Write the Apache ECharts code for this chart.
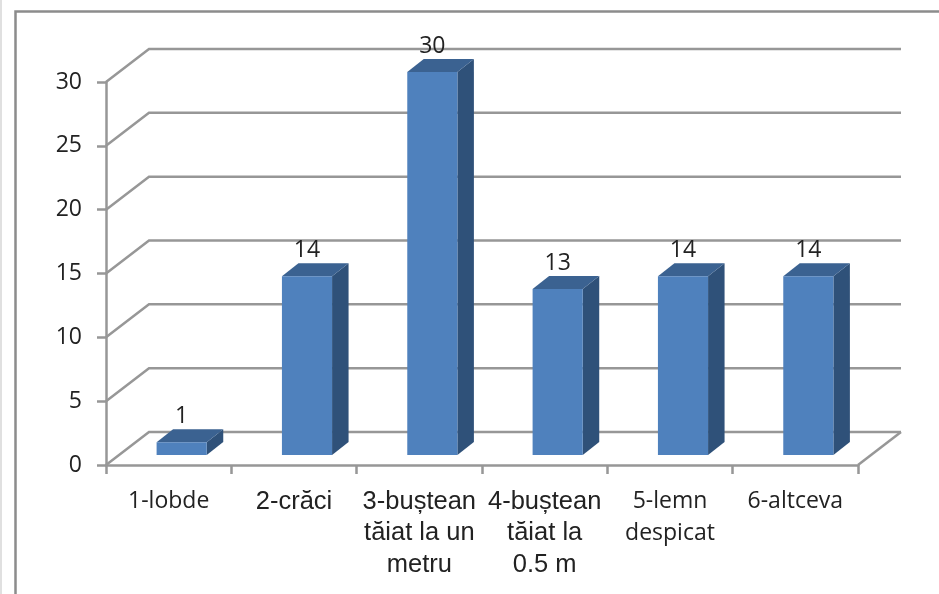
<!DOCTYPE html>
<html>
<head>
<meta charset="utf-8">
<style>html,body{margin:0;padding:0;background:#fff}</style>
<script src="https://cdn.jsdelivr.net/npm/echarts@6/dist/echarts.min.js"></script>
</head>
<body>
<div id="main" style="width:939px;height:594px;"></div>
<script type="text/javascript">
var categories = ['1-lobde', '2-crăci', '3-buștean\ntăiat la un\nmetru', '4-buștean\ntăiat la\n0.5 m', '5-lemn\ndespicat', '6-altceva'];
var values = [1, 14, 30, 13, 14, 14];
var yTicks = [0, 5, 10, 15, 20, 25, 30];
var arialLabels = ['2-crăci', '3-buștean\ntăiat la un\nmetru', '4-buștean\ntăiat la\n0.5 m'];

// adancimea peretilor si a barelor, in pixeli
var WALL_DX = 43, WALL_DY = 33;
var BAR_OFF_X = 13, BAR_OFF_Y = 10, BAR_DX = 16.5, BAR_DY = 13;
var gridColor = '#979797';

var myChart = echarts.init(document.getElementById('main'));

function renderWall(params, api) {
  var cs = params.coordSys;
  var y = api.coord([0, api.value(0)])[1];
  var left = cs.x, right = cs.x + cs.width;
  var children = [{
    type: 'polyline',
    shape: {points: [[left, y], [left + WALL_DX, y - WALL_DY], [right + WALL_DX, y - WALL_DY]]},
    style: {fill: null, stroke: gridColor, lineWidth: 2.5}
  }];
  if (api.value(0) === 0) {
    children.push({
      type: 'line',
      shape: {x1: right, y1: y, x2: right + WALL_DX, y2: y - WALL_DY},
      style: {stroke: gridColor, lineWidth: 2.5}
    });
  }
  return {type: 'group', children: children};
}

function renderBar(params, api) {
  var val = api.value(1);
  var top = api.coord([api.value(0), val]);
  var base = api.coord([api.value(0), 0]);
  var w = api.size([1, 0])[0] * 0.4;
  var x0 = top[0] + BAR_OFF_X - w / 2, x1 = x0 + w;
  var yt = top[1] - BAR_OFF_Y, yb = base[1] - BAR_OFF_Y;
  return {
    type: 'group',
    children: [{
      type: 'polygon',
      shape: {points: [[x1, yt], [x1 + BAR_DX, yt - BAR_DY], [x1 + BAR_DX, yb - BAR_DY], [x1, yb]]},
      style: {fill: '#2f5179'}
    }, {
      type: 'polygon',
      shape: {points: [[x0, yt], [x0 + BAR_DX, yt - BAR_DY], [x1 + BAR_DX, yt - BAR_DY], [x1, yt]]},
      style: {fill: '#3b6291'}
    }, {
      type: 'rect',
      shape: {x: x0, y: yt, width: w, height: yb - yt},
      style: {fill: '#4f81bd'}
    }, {
      type: 'text',
      style: {
        text: String(val), x: (x0 + x1) / 2, y: yt - 26,
        align: 'center', verticalAlign: 'middle',
        font: '23px "Open Sans"', fill: '#222'
      }
    }]
  };
}

var option = {
  animation: false,
  backgroundColor: '#fff',
  grid: {left: 106, right: 81, top: 82, bottom: 129},
  xAxis: {
    type: 'category',
    data: categories.map(function (c) {
      var arial = arialLabels.indexOf(c) >= 0;
      return {
        value: c,
        textStyle: arial
          ? {fontFamily: 'Liberation Sans', fontSize: 25.5, lineHeight: 31.5}
          : {fontFamily: 'Open Sans', fontSize: 23, lineHeight: 31.5}
      };
    }),
    axisLine: {lineStyle: {color: gridColor, width: 2.5}},
    axisTick: {show: true, alignWithLabel: false, length: 9, lineStyle: {color: gridColor, width: 2.5}},
    axisLabel: {color: '#222', margin: 21, interval: 0}
  },
  yAxis: {
    type: 'value', min: 0, max: 30, interval: 5,
    splitLine: {show: false},
    axisLine: {show: true, lineStyle: {color: gridColor, width: 2.5}},
    axisTick: {show: true, length: 9, lineStyle: {color: gridColor, width: 2.5}},
    axisLabel: {color: '#222', margin: 24, padding: [6, 0, 0, 0], fontFamily: 'Open Sans', fontSize: 23}
  },
  graphic: [
    {type: 'rect', shape: {x: 0, y: 0, width: 2, height: 594}, style: {fill: '#e0e0e0'}},
    {type: 'polyline', shape: {points: [[15.5, 594], [15.5, 11.5], [939, 11.5]]}, style: {fill: null, stroke: '#8c8c8c', lineWidth: 2.5}}
  ],
  series: [{
    type: 'custom', coordinateSystem: 'cartesian2d', renderItem: renderWall,
    data: yTicks.map(function (t) { return [t]; }), encode: {y: 0}, silent: true
  }, {
    type: 'custom', coordinateSystem: 'cartesian2d', renderItem: renderBar,
    data: values.map(function (v, i) { return [i, v]; }), encode: {x: 0, y: 1}, z: 3
  }]
};
myChart.setOption(option);
</script>
</body>
</html>
